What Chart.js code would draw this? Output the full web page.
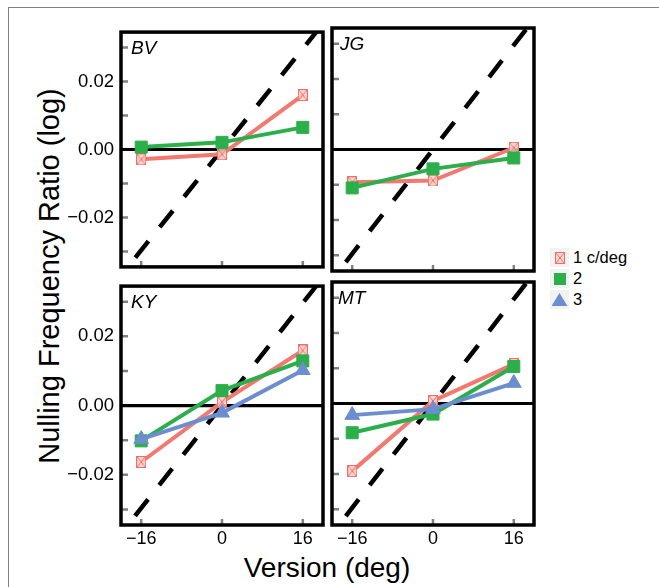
<!DOCTYPE html>
<html>
<head>
<meta charset="utf-8">
<script src="https://cdn.jsdelivr.net/npm/chart.js@4.4.1/dist/chart.umd.min.js"></script>
<style>
  body { margin: 0; background: #fff; width: 659px; height: 587px; overflow: hidden; position: relative;
         font-family: "Liberation Sans", Arial, sans-serif; }
  #frame { position: absolute; left: 8px; top: 7px; width: 700px; height: 700px;
           border-left: 1px solid #808080; border-top: 1px solid #808080; }
  canvas.panel { position: absolute; }
  #ytitle { position: absolute; left: 49px; top: 276px; font-size: 29px; line-height: 1; white-space: nowrap;
            transform: translate(-50%, -50%) rotate(-90deg); }
  #xtitle { position: absolute; left: 327px; top: 554px; font-size: 28px; line-height: 1; white-space: nowrap;
            transform: translateX(-50%); }
  #legend { position: absolute; left: 550px; top: 247px; font-size: 16.5px; }
  .row { display: flex; align-items: center; height: 21px; }
  .key { width: 19px; height: 19px; background: #f2f2f2; display: flex; align-items: center; justify-content: center; margin-right: 4px; }
</style>
</head>
<body>
<div id="frame"></div>
<div id="ytitle">Nulling Frequency Ratio (log)</div>
<div id="xtitle">Version (deg)</div>
<div id="legend"></div>
<script>
// valeurs
const versions = [-16, 0, 16];
const xTicks = [-16, 0, 16];
const yTicks = [-0.03, -0.02, -0.01, 0, 0.01, 0.02, 0.03];
const yLabelled = [-0.02, 0, 0.02];
const legendLabels = ['1 c/deg', '2', '3'];

// ligne de prédiction (tirets)
const diagX = [-22, 22];
const diagY = [-0.0407, 0.0407];

const bvRed   = [-0.0029, -0.0014, 0.0160];
const bvGreen = [ 0.0007,  0.0021, 0.0065];
const jgRed   = [-0.0093, -0.0088, 0.0005];
const jgGreen = [-0.0109, -0.0055, -0.0024];
const kyRed   = [-0.0163,  0.0010, 0.0159];
const kyGreen = [-0.0102,  0.0043, 0.0129];
const kyBlue  = [-0.0097, -0.0021, 0.0102];
const mtRed   = [-0.0192,  0.0007, 0.0112];
const mtGreen = [-0.0083, -0.0030, 0.0105];
const mtBlue  = [-0.0033, -0.0016, 0.0058];

const RED = 'rgb(242,120,112)';
const GREEN = 'rgb(44,175,74)';
const BLUE = 'rgb(108,142,207)';

// marqueur carré barré pour 1 c/deg
function makeCrossBox() {
  const c = document.createElement('canvas');
  c.width = 10; c.height = 12;
  const g = c.getContext('2d');
  g.fillStyle = 'rgba(252,210,205,0.85)';
  g.fillRect(0, 0, 10, 12);
  g.strokeStyle = 'rgb(240,112,104)';
  g.lineWidth = 1;
  g.strokeRect(0.5, 0.5, 9, 11);
  g.beginPath();
  g.moveTo(1, 1); g.lineTo(9, 11);
  g.moveTo(9, 1); g.lineTo(1, 11);
  g.stroke();
  return c;
}
const crossBox = makeCrossBox();

function fmtNum(v, digits) {
  const s = Math.abs(v).toFixed(digits);
  return v < 0 ? '\u2212' + s : s;
}

const panelDecor = {
  id: 'panelDecor',
  beforeDatasetsDraw(chart) {
    const { ctx, chartArea: a, scales: { x, y } } = chart;
    ctx.save();
    ctx.strokeStyle = '#808080';
    ctx.lineWidth = 2.5;
    ctx.beginPath();
    yTicks.forEach(v => {
      const py = y.getPixelForValue(v);
      ctx.moveTo(a.left, py); ctx.lineTo(a.left + 7, py);
    });
    xTicks.forEach(v => {
      const px = x.getPixelForValue(v);
      ctx.moveTo(px, a.bottom); ctx.lineTo(px, a.bottom - 6);
    });
    ctx.stroke();
    const y0 = y.getPixelForValue(0);
    ctx.strokeStyle = '#000';
    ctx.lineWidth = 3.2;
    ctx.beginPath(); ctx.moveTo(a.left, y0); ctx.lineTo(a.right, y0); ctx.stroke();
    ctx.restore();
  },
  afterDatasetsDraw(chart, args, opts) {
    const { ctx, chartArea: a } = chart;
    ctx.save();
    ctx.strokeStyle = '#000';
    ctx.lineWidth = 3.5;
    ctx.strokeRect(a.left, a.top, a.right - a.left, a.bottom - a.top);
    ctx.fillStyle = '#000';
    ctx.font = 'italic 19px "Liberation Sans", Arial, sans-serif';
    ctx.textBaseline = 'alphabetic';
    ctx.fillText(opts.label, a.left + opts.dx, a.top + 22);
    ctx.restore();
  }
};

const W = 202, H = 243;
const panels = [
  { label: 'BV', left: 121,   top: 28,  dx: 10, yLab: true,  xLab: false, red: bvRed, green: bvGreen, blue: null },
  { label: 'JG', left: 331.5, top: 28,  dx: 8,  yLab: false, xLab: false, red: jgRed, green: jgGreen, blue: null },
  { label: 'KY', left: 121,   top: 282, dx: 10, yLab: true,  xLab: true,  red: kyRed, green: kyGreen, blue: kyBlue },
  { label: 'MT', left: 331.5, top: 282, dx: 6,  yLab: false, xLab: true,  red: mtRed, green: mtGreen, blue: mtBlue }
];

function toXY(xs, ys) {
  return xs.map((v, i) => ({ x: v, y: ys[i] }));
}

function makePanel(p) {
  const padL = 70, padT = 14, padR = 14, padB = p.xLab ? 40 : 14;
  const cv = document.createElement('canvas');
  cv.className = 'panel';
  cv.width = padL + W + padR;
  cv.height = padT + H + padB;
  cv.style.left = (p.left - padL) + 'px';
  cv.style.top = (p.top - padT) + 'px';
  document.body.appendChild(cv);

  const datasets = [];
  if (p.blue) {
    datasets.push({ data: toXY(versions, p.blue), borderColor: BLUE, backgroundColor: BLUE, borderWidth: 4,
                    pointStyle: 'triangle', pointRadius: 8.5, pointBorderWidth: 1, order: 1 });
  }
  datasets.push({ data: toXY(versions, p.green), borderColor: GREEN, backgroundColor: GREEN, borderWidth: 4,
                  pointStyle: 'rect', pointRadius: 8.5, pointBorderWidth: 1, order: 2 });
  datasets.push({ data: toXY(versions, p.red), borderColor: RED, backgroundColor: RED, borderWidth: 4,
                  pointStyle: crossBox, pointRadius: 6, order: 3 });
  datasets.push({ data: toXY(diagX, diagY), borderColor: '#000', borderWidth: 4.5, borderDash: [21, 18],
                  pointRadius: 0, order: 4 });

  new Chart(cv, {
    type: 'line',
    data: { datasets },
    options: {
      responsive: false,
      animation: false,
      events: [],
      layout: { padding: { top: padT, right: padR, left: 0, bottom: 0 } },
      plugins: {
        legend: { display: false },
        tooltip: { enabled: false },
        panelDecor: { label: p.label, dx: p.dx }
      },
      scales: {
        x: {
          type: 'linear', min: -20, max: 20,
          grid: { display: false, drawTicks: false },
          border: { display: false },
          afterBuildTicks: s => { s.ticks = xTicks.map(v => ({ value: v })); },
          afterFit: s => { s.height = padB; },
          ticks: {
            display: p.xLab, padding: 3, color: '#000', maxRotation: 0,
            font: { size: 18, family: '"Liberation Sans", Arial, sans-serif' },
            callback: v => fmtNum(v, 0)
          }
        },
        y: {
          type: 'linear', min: -0.0345, max: 0.0345,
          grid: { display: false, drawTicks: false },
          border: { display: false },
          afterBuildTicks: s => { s.ticks = yTicks.map(v => ({ value: v })); },
          afterFit: s => { s.width = padL; },
          ticks: {
            display: p.yLab, padding: 7, color: '#000',
            font: { size: 18.5, family: '"Liberation Sans", Arial, sans-serif' },
            callback: v => yLabelled.some(l => Math.abs(l - v) < 1e-9) ? fmtNum(v, 2) : ''
          }
        }
      }
    },
    plugins: [panelDecor]
  });
}

panels.forEach(makePanel);

// légende
const legend = document.getElementById('legend');
legendLabels.forEach((txt, i) => {
  const row = document.createElement('div');
  row.className = 'row';
  const key = document.createElement('div');
  key.className = 'key';
  let icon;
  if (i === 0) {
    icon = document.createElement('img');
    icon.src = crossBox.toDataURL();
  } else if (i === 1) {
    icon = document.createElement('div');
    icon.style.cssText = 'width:12px;height:12px;background:' + GREEN;
  } else {
    icon = document.createElement('div');
    icon.style.cssText = 'width:16px;height:13px;background:' + BLUE + ';clip-path:polygon(50% 0,100% 100%,0 100%)';
  }
  key.appendChild(icon);
  const label = document.createElement('span');
  label.textContent = txt;
  row.appendChild(key);
  row.appendChild(label);
  legend.appendChild(row);
});
</script>
</body>
</html>
